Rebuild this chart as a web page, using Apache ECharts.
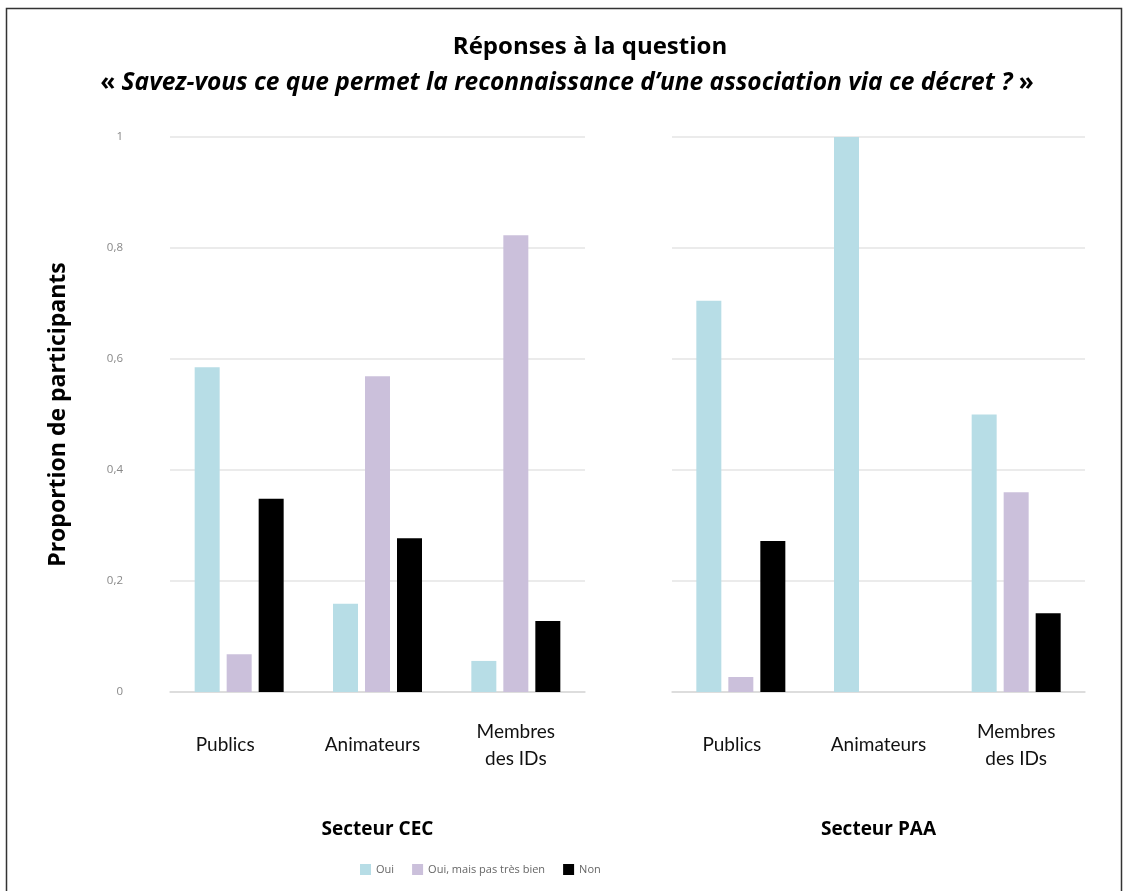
<!DOCTYPE html>
<html>
<head>
<meta charset="utf-8">
<script src="https://cdn.jsdelivr.net/npm/echarts@6/dist/echarts.min.js"></script>
<style>
html,body{margin:0;padding:0;background:#fff;}
#chart{width:1129px;height:891px;}
</style>
</head>
<body>
<div id="chart"></div>
<script>
var categories = ['Publics', 'Animateurs', 'Membres\ndes IDs'];
var seriesNames = ['Oui', 'Oui, mais pas très bien', 'Non'];
var sectors = ['Secteur CEC', 'Secteur PAA'];
var cecOui = [0.585, 0.159, 0.056];
var cecOuiMais = [0.068, 0.569, 0.823];
var cecNon = [0.348, 0.277, 0.128];
var paaOui = [0.705, 1.0, 0.5];
var paaOuiMais = [0.027, 0, 0.36];
var paaNon = [0.272, 0, 0.142];
var yTicks = [0, 0.2, 0.4, 0.6, 0.8, 1];

var colors = ['#b7dde6', '#cbc0db', '#000000'];
var FONT = 'Lato';
var BFONT = 'Open Sans';
// horizontal nudges (px) of the category labels, per panel
var labelShift = [[-14, -5, 0], [-9, 0, 0]];

var chart = echarts.init(document.getElementById('chart'));

function xAx(idx, name) {
  var rich = {};
  var shifts = labelShift[idx];
  for (var i = 0; i < shifts.length; i++) {
    var s = shifts[i];
    rich['k' + i] = {
      fontFamily: FONT, fontSize: 19, color: '#111', lineHeight: 27, align: 'center',
      padding: s < 0 ? [0, -2 * s, 0, 0] : [0, 0, 0, 2 * s]
    };
  }
  return {
    type: 'category', gridIndex: idx, data: categories,
    axisTick: {show: false},
    axisLine: {lineStyle: {color: '#d9d9d9', width: 1.5}},
    axisLabel: {
      fontFamily: FONT, fontSize: 19, color: '#111', margin: 53, verticalAlign: 'middle', lineHeight: 27, interval: 0,
      formatter: function (v, i) {
        return v.split('\n').map(function (line) { return '{k' + i + '|' + line + '}'; }).join('\n');
      },
      rich: rich
    },
    name: name, nameLocation: 'middle', nameGap: 128,
    nameTextStyle: {fontFamily: BFONT, fontWeight: 'bold', fontSize: 19, color: '#000'}
  };
}
function yAx(idx, showLabels) {
  var o = {
    type: 'value', gridIndex: idx, min: yTicks[0], max: yTicks[yTicks.length - 1], interval: 0.2,
    axisLine: {show: false}, axisTick: {show: false},
    splitLine: {lineStyle: {color: '#e4e4e4', width: 1.5}},
    axisLabel: {show: showLabels, fontFamily: BFONT, fontSize: 11.5, color: '#888', margin: 47,
      formatter: function (v) { return String(Math.round(v * 10) / 10).replace('.', ','); }}
  };
  if (showLabels) {
    o.name = 'Proportion de participants';
    o.nameLocation = 'middle';
    o.nameRotate = 90;
    o.nameGap = 100;
    o.nameTextStyle = {fontFamily: BFONT, fontWeight: 'bold', fontSize: 23, color: '#000'};
  }
  return o;
}
function bar(name, data, xi, ci) {
  return {
    name: name, type: 'bar', xAxisIndex: xi, yAxisIndex: xi, data: data,
    barWidth: 25, barGap: '28%',
    itemStyle: {color: colors[ci]}, animation: false
  };
}

chart.setOption({
  animation: false,
  title: {
    left: 562, top: 24, textAlign: 'center',
    text: '{a|Réponses à la question}\n{b|« }{c|Savez-vous ce que permet la reconnaissance d’une association via ce décret ?}{b| »}',
    textStyle: {
      rich: {
        a: {fontFamily: BFONT, fontWeight: 'bold', fontSize: 24, color: '#000', lineHeight: 36, align: 'center', padding: [0, 0, 0, 46]},
        b: {fontFamily: BFONT, fontWeight: 'bold', fontSize: 24.5, color: '#000', lineHeight: 36},
        c: {fontFamily: BFONT, fontWeight: 'bold', fontStyle: 'italic', fontSize: 24.5, color: '#000', lineHeight: 36}
      }
    }
  },
  legend: {
    data: seriesNames, bottom: 11, left: 355, itemWidth: 11, itemHeight: 11, itemGap: 18,
    icon: 'rect',
    textStyle: {fontFamily: BFONT, fontSize: 11, color: '#666'}
  },
  graphic: [{
    type: 'rect', shape: {x: 6.5, y: 8.5, width: 1115, height: 900},
    style: {fill: 'none', stroke: '#333', lineWidth: 1.5}, silent: true
  }],
  grid: [
    {left: 170, top: 137, width: 415, height: 555},
    {left: 672, top: 137, width: 413, height: 555}
  ],
  xAxis: [xAx(0, sectors[0]), xAx(1, sectors[1])],
  yAxis: [yAx(0, true), yAx(1, false)],
  series: [
    bar(seriesNames[0], cecOui, 0, 0),
    bar(seriesNames[1], cecOuiMais, 0, 1),
    bar(seriesNames[2], cecNon, 0, 2),
    bar(seriesNames[0], paaOui, 1, 0),
    bar(seriesNames[1], paaOuiMais, 1, 1),
    bar(seriesNames[2], paaNon, 1, 2)
  ]
});
</script>
</body>
</html>
